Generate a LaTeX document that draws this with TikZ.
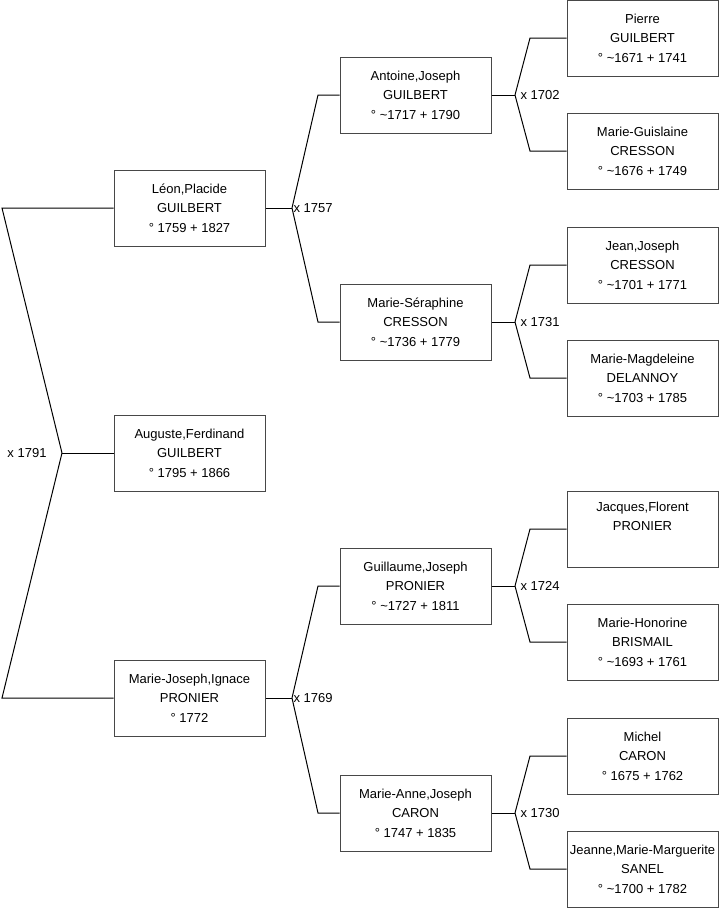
\documentclass[tikz,border=0pt]{standalone}
\usepackage{fontspec}
\setmainfont{Liberation Sans}
\definecolor{boxline}{RGB}{72,72,72}

\tikzset{
  person/.style={draw=boxline, line width=0.75pt, fill=white, minimum width=113.25pt, minimum height=57pt,
    inner sep=0pt, align=center, font=\fontsize{9.75}{14.6}\selectfont},
  mariage/.style={inner sep=0.75pt, font=\fontsize{9.75}{12}\selectfont},
}

\begin{document}
\begin{tikzpicture}[x=0.75pt,y=0.75pt,yscale=-1,xscale=1,line width=0.75pt]
\useasboundingbox (0,0) rectangle (719,908);

% Generation 1
\node [person] (auguste) at (189.5,453) {Auguste,Ferdinand\\GUILBERT\\° 1795 + 1866};
% Generation 2
\node [person] (leon) at (189.5,208) {Léon,Placide\\GUILBERT\\° 1759 + 1827};
\node [person] (mjoseph) at (189.5,698) {Marie-Joseph,Ignace\\PRONIER\\° 1772};
% Generation 3
\node [person] (antoine) at (415.5,95) {Antoine,Joseph\\GUILBERT\\° \textasciitilde1717 + 1790};
\node [person] (seraphine) at (415.5,322) {Marie-Séraphine\\CRESSON\\° \textasciitilde1736 + 1779};
\node [person] (guillaume) at (415.5,586) {Guillaume,Joseph\\PRONIER\\° \textasciitilde1727 + 1811};
\node [person] (manne) at (415.5,813) {Marie-Anne,Joseph\\CARON\\° 1747 + 1835};
% Generation 4
\node [person] (pierre) at (642.5,38) {Pierre\\GUILBERT\\° \textasciitilde1671 + 1741};
\node [person] (guislaine) at (642.5,151) {Marie-Guislaine\\CRESSON\\° \textasciitilde1676 + 1749};
\node [person] (jean) at (642.5,265) {Jean,Joseph\\CRESSON\\° \textasciitilde1701 + 1771};
\node [person] (magdeleine) at (642.5,378) {Marie-Magdeleine\\DELANNOY\\° \textasciitilde1703 + 1785};
\node [person] (jacques) at (642.5,529) {Jacques,Florent\\PRONIER\\\strut};
\node [person] (honorine) at (642.5,642) {Marie-Honorine\\BRISMAIL\\° \textasciitilde1693 + 1761};
\node [person] (michel) at (642.5,756) {Michel\\CARON\\° 1675 + 1762};
\node [person] (jeanne) at (642.5,869) {Jeanne,Marie-Marguerite\\SANEL\\° \textasciitilde1700 + 1782};

% Marriage points
\coordinate (m1791) at (62,453);
\coordinate (m1757) at (292,208);
\coordinate (m1769) at (292,698);
\coordinate (m1702) at (515,95);
\coordinate (m1731) at (515,322);
\coordinate (m1724) at (515,586);
\coordinate (m1730) at (515,813);

% Lines
\draw (auguste.west) -- (m1791);
\draw (m1791) -- ++(-60,-245) -- (leon.west);
\draw (m1791) -- ++(-60,245) -- (mjoseph.west);

\draw (leon.east) -- (m1757);
\draw (m1757) -- ++(26,-113) -- (antoine.west);
\draw (m1757) -- ++(26,114) -- (seraphine.west);

\draw (mjoseph.east) -- (m1769);
\draw (m1769) -- ++(26,-112) -- (guillaume.west);
\draw (m1769) -- ++(26,115) -- (manne.west);

\draw (antoine.east) -- (m1702);
\draw (m1702) -- ++(15,-57) -- (pierre.west);
\draw (m1702) -- ++(15,56) -- (guislaine.west);

\draw (seraphine.east) -- (m1731);
\draw (m1731) -- ++(15,-57) -- (jean.west);
\draw (m1731) -- ++(15,56) -- (magdeleine.west);

\draw (guillaume.east) -- (m1724);
\draw (m1724) -- ++(15,-57) -- (jacques.west);
\draw (m1724) -- ++(15,56) -- (honorine.west);

\draw (manne.east) -- (m1730);
\draw (m1730) -- ++(15,-57) -- (michel.west);
\draw (m1730) -- ++(15,56) -- (jeanne.west);

% Text Node
\node [mariage, anchor=east] (t1791) at ([xshift=-10.5pt]m1791) {x 1791};
\node [mariage, anchor=west] (t1757) at (m1757) {x 1757};
\node [mariage, anchor=west] (t1769) at (m1769) {x 1769};
\node [mariage, anchor=west] (t1702) at ([xshift=3pt]m1702) {x 1702};
\node [mariage, anchor=west] (t1731) at ([xshift=3pt]m1731) {x 1731};
\node [mariage, anchor=west] (t1724) at ([xshift=3pt]m1724) {x 1724};
\node [mariage, anchor=west] (t1730) at ([xshift=3pt]m1730) {x 1730};

\end{tikzpicture}
\end{document}
